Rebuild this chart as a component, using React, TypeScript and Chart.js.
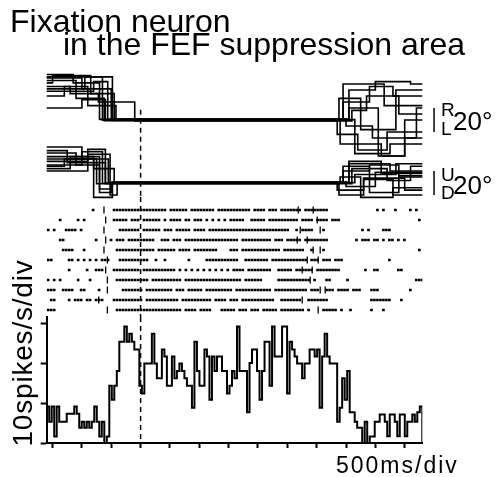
import React, { useEffect, useRef } from "react";
import { Chart, registerables } from "chart.js";
Chart.register(...registerables);

// time axis (ms, 0 = alignment event / dashed line)
const T_START = -1600;
const T_END = 4800;
const X_TICKS = [-1500, -1000, -500, 0, 500, 1000, 1500, 2000, 2500, 3000, 3500, 4000, 4500];
const HIST_TICKS = [0, 10, 20, 30];
const HIST_MAX = 31.5;

// spike density histogram (spikes/s), 150 bins from T_START to T_END
const HIST_RATE = [
  9.1, 5.3, 9.1, 1.6, 9.1, 5.3, 5.3, 5.3, 7.3, 7.3,
  7.3, 9.1, 7.3, 3.8, 5.3, 3.8, 5.3, 3.8, 5.3, 9.1,
  5.3, 1.6, 5.3, 0, 1.6, 14.3, 10.8, 14.3, 18, 25.3,
  25.3, 29.1, 25.3, 27.3, 25.3, 23.4, 23.4, 14.3, 12.4, 19.9,
  19.9, 19.9, 27.3, 19.9, 16.2, 16.2, 23.4, 21.6, 14.3, 14.3,
  21.6, 16.2, 18, 19.9, 18, 16.2, 14.3, 14.3, 8.8, 25.3,
  18, 14.3, 14.3, 23.4, 21.6, 10.8, 21.6, 18, 21.6, 21.6,
  18, 18, 12.4, 14.3, 18, 16.2, 29.1, 18, 18, 18,
  7.7, 20, 23.4, 23.4, 18, 10.8, 18, 25.3, 25.3, 14.3,
  29.1, 21.6, 21.6, 21.6, 29.1, 29.1, 12.4, 25.3, 23.4, 21.6,
  19.9, 19.9, 16.2, 19.9, 19.9, 23.4, 23.4, 21.6, 23.4, 8.8,
  21.6, 27.3, 21.6, 19.9, 19.9, 19.9, 5.3, 8.8, 16.2, 10.8,
  18, 7.7, 7.7, 5.3, 3.8, 3.8, 0, 5.3, 0, 1.6,
  1.6, 5.3, 5.3, 7.1, 7.1, 5.3, 1.7, 7.1, 7.1, 5.3,
  1.7, 7.1, 7.1, 1.7, 5.3, 5.3, 7.1, 5.3, 7.7, 9.1,
];

// raster: one string per trial, one character per 51 ms cell starting at T_START ("|" = spike)
const RASTER_CELL_MS = 51;
const RASTER_ROWS = [
  ".......... .....|.... ..|||||||| |||||||||| .||||||.|| ||||||.||| ||||||||.| |||.|||.|| |||||.|||| ||||...... .......... |.|...|... .|.|......",
  "....|..... |.|....... ..|||||.|| |.||||||.| .||||.||.| ||.|.|.|.| .|||||..|| |||.|||||| ||||.||||. ||||.|||.. .......... .......... ....|.....",
  "|.|...|||| .|........ ....|||||| |.||||||.| ||.|||||.| |||.|||||| |||||||||| |||||||||| |..|.||||. ..|....... .....|.|.. ..|||..... ..........",
  "....||.... ......|... .|.|||.||| ||||||..|| |.|||.|||| |||||||||| ||||.||||| |||||.|||. |||||.|||| ||||...... ...|.|||.| |.|.||.|.| ..........",
  ".....||||. ..|....... ...||||||| ||||||.||| |||.||||.| |||||||... .|||.||||| ||||||||.| ||||||..|. ..|....... .......... .......... ....|.....",
  "||.....||. |.|.|.|.|| |...|||||| ||||..|..| .......|.. ...||||||| ||||..|||| ||||.||||| |||||||.|| |.|||.|||. .......... ....|..... ..........",
  ".......|.. ...|..|||. ..|||||||| |.|||||||| |||.|.|.|. |.|.|.|.|. |.||||.||| |||||..||| ||.||||||. ||||||||.. ......|..| |......||. ..........",
  "|.|.|..... |...|..... ...||||||| ||||.||||| |||||.|||| |||||||||| |||||.|||| ||.....||| ||||||||.| ...||..... |......... .......... ...|||....",
  "|||..||||. .||....|.. .....||||| ||.||||||| ||.|||.||| ||.||||||| ||.||||||| |||||.|||| |||||||.|| |..|||.||| |.|||...|| |......... .|........",
  ".||....|.| ||.||.|||. ..|||||||| ||.||||||| ||||.||||| |||||.|||| .|||.||||| ||||||..|| |||||..||| ||||...... ........|| |||||...|. ..........",
  "|||....... .......... ...||||||| |||||||||| |||||.|||| .||||...|| |||.|||.|| |.|||||.|| ||||||.|.. ..|||||.|. .|......|. ..|....... ..........",
];
// per-trial event ticks (ms)
const RASTER_ON = [-624, -595, -624, -595, -624, -566, -595, -566, -566, -714, -566];
const RASTER_OFF = [
  [2686, 2941], [3009], [2720, 3060], [2669, 2839], [2941, 3060], [2839, 3026],
  [2754, 2924], [2890], [3060, 3145], [2754], [3026],
];

// eye position traces, steps of [time ms, degrees]
const H_OFFSET = 52.5; // horizontal channel drawn above vertical channel
const H_TRACES = [
  [[-1600, 38], [-1150, 31], [-700, 0.5], [3450, 15], [3900, 28], [4300, 20]],
  [[-1600, 35], [-1000, 26], [-500, -0.4], [3350, -12], [3700, -25], [4200, -10]],
  [[-1600, 31], [-1500, 37], [-850, 22], [-450, 0.9], [3550, 25], [4000, 32], [4600, 30]],
  [[-1600, 10], [-1000, 17], [-600, 0.2], [3400, -20], [4100, -30], [4500, -15]],
  [[-1600, 28], [-1200, 22], [-720, 15], [-100, -0.7], [3600, 8], [3850, 20], [4400, 5]],
  [[-1600, 24], [-800, 32], [-560, 0.6], [3500, -5], [3950, -15], [4700, 10]],
  [[-1600, 36], [-650, -0.2], [3450, 30], [4150, 12]],
  [[-1600, 20], [-1300, 28], [-900, 12], [-420, 0.3], [3650, -28], [4250, -20]],
  [[-1600, 33], [-1100, 18], [-620, -0.5], [3380, 18], [3750, -8], [4350, 25]],
  [[-1600, 26], [-950, 36], [-480, 0.1], [3550, 10], [4050, -30], [4500, 0]],
];
const V_TRACES = [
  [[-1600, 25], [-1100, 15], [-700, -8], [-500, 0.4], [3450, 10], [3900, 15], [4400, 5]],
  [[-1600, 18], [-900, 28], [-600, -0.3], [3350, -6], [3800, 3], [4300, -10]],
  [[-1600, 12], [-1200, 22], [-800, -12], [-480, 0.7], [3550, 18], [4100, 8]],
  [[-1600, 30], [-1000, 20], [-550, 0.1], [3400, 5], [3750, -12], [4300, -4]],
  [[-1600, 14], [-1300, 20], [-750, -0.6], [3600, 12], [4200, 2], [4600, 14]],
  [[-1600, 22], [-700, -5], [-500, 0.5], [3500, -3], [4000, 9]],
  [[-1600, 15], [-1000, 26], [-650, -0.2], [3450, 14], [3900, -8], [4400, 6]],
  [[-1600, 20], [-800, 12], [-450, 0.3], [3650, 7], [4350, 16]],
  [[-1600, 27], [-1250, 17], [-600, -0.4], [3380, -10], [3800, 4], [4500, -6]],
  [[-1600, 10], [-900, 24], [-520, -10], [-400, 0.2], [3550, 16], [4250, 10]],
];
const SCALE_BAR_T = 5000;
const SCALE_BAR_DEG = 20;
const EYE_MIN = -11.7;
const EYE_MAX = 94.2;
const DASH_TOP_DEG = 61;

const FONT = '"Liberation Sans", Arial, Helvetica, sans-serif';

export default function App() {
  const ref = useRef<HTMLCanvasElement>(null);
  useEffect(() => {
    if (!ref.current) return;
    const datasets: any[] = [];
    const black = "#000";

    // histogram
    const bw = (T_END - T_START) / HIST_RATE.length;
    const histPts = HIST_RATE.map((v, i) => ({ x: T_START + i * bw, y: v }));
    histPts.push({ x: T_END, y: HIST_RATE[HIST_RATE.length - 1] });
    histPts.push({ x: T_END, y: 0 });
    datasets.push({
      type: "line", yAxisID: "yHist", data: histPts, stepped: "before",
      borderColor: black, borderWidth: 2, pointRadius: 0, fill: false,
    });

    // raster spikes
    const spikes: { x: number; y: number }[] = [];
    RASTER_ROWS.forEach((row, r) => {
      row.replace(/ /g, "").split("").forEach((ch, c) => {
        if (ch === "|") spikes.push({ x: T_START + (c + 0.5) * RASTER_CELL_MS, y: r });
      });
    });
    datasets.push({
      type: "scatter", yAxisID: "yRaster", data: spikes,
      pointStyle: "rect", pointRadius: 1.9, backgroundColor: black, borderWidth: 0,
    });
    const events: { x: number; y: number }[] = [];
    RASTER_ON.forEach((t, r) => events.push({ x: t, y: r }));
    RASTER_OFF.forEach((ts, r) => ts.forEach((t) => events.push({ x: t, y: r })));
    datasets.push({
      type: "scatter", yAxisID: "yRaster", data: events,
      pointStyle: "line", pointRotation: 90, pointRadius: 3.5, borderColor: black, borderWidth: 1.3,
    });

    // eye traces
    const toPts = (steps: number[][], off: number) => {
      const pts = steps.map(([t, v]) => ({ x: t, y: v + off }));
      pts.push({ x: T_END, y: steps[steps.length - 1][1] + off });
      return pts;
    };
    H_TRACES.forEach((s) => datasets.push({
      type: "line", yAxisID: "yEye", data: toPts(s, H_OFFSET), stepped: "before",
      borderColor: black, borderWidth: 1.6, pointRadius: 0, fill: false, clip: false,
    }));
    V_TRACES.forEach((s) => datasets.push({
      type: "line", yAxisID: "yEye", data: toPts(s, 0), stepped: "before",
      borderColor: black, borderWidth: 1.6, pointRadius: 0, fill: false, clip: false,
    }));
    // scale bars
    [H_OFFSET, 0].forEach((c) => datasets.push({
      type: "line", yAxisID: "yEye",
      data: [{ x: SCALE_BAR_T, y: c - SCALE_BAR_DEG / 2 }, { x: SCALE_BAR_T, y: c + SCALE_BAR_DEG / 2 }],
      borderColor: black, borderWidth: 1.5, pointRadius: 0, clip: false,
    }));

    // dashed alignment line across panels
    const dash = { borderColor: black, borderWidth: 1.5, borderDash: [5, 4], pointRadius: 0, fill: false, type: "line" };
    datasets.push({ ...dash, yAxisID: "yEye", data: [{ x: 0, y: DASH_TOP_DEG }, { x: 0, y: EYE_MIN }] });
    datasets.push({ ...dash, yAxisID: "yRaster", data: [{ x: 0, y: -1.3 }, { x: 0, y: 10.7 }] });
    datasets.push({ ...dash, yAxisID: "yHist", data: [{ x: 0, y: HIST_MAX }, { x: 0, y: 0 }] });

    const chart = new Chart(ref.current, {
      type: "line",
      data: { datasets },
      options: {
        animation: false,
        responsive: false,
        events: [],
        layout: { padding: { left: 40.7, right: 76.7, top: 70, bottom: 29 } },
        plugins: { legend: { display: false }, tooltip: { enabled: false } },
        scales: {
          x: {
            type: "linear", position: "bottom", min: T_START, max: T_END,
            afterBuildTicks: (s: any) => { s.ticks = X_TICKS.map((v) => ({ value: v })); },
            ticks: { display: false },
            grid: { drawOnChartArea: false, drawTicks: true, tickLength: 5, tickWidth: 2, tickColor: black },
            border: { display: true, width: 2, color: black },
          },
          yHist: {
            type: "linear", position: "left", stack: "v", stackWeight: 126, min: 0, max: HIST_MAX,
            afterBuildTicks: (s: any) => { s.ticks = HIST_TICKS.map((v) => ({ value: v })); },
            ticks: { display: false },
            grid: { drawOnChartArea: false, drawTicks: true, tickLength: 6, tickWidth: 2, tickColor: black },
            border: { display: true, width: 2, color: black },
          },
          yRaster: {
            type: "linear", position: "left", stack: "v", stackWeight: 120, min: -1.3, max: 10.7,
            reverse: true, display: false,
          },
          yEye: {
            type: "linear", position: "left", stack: "v", stackWeight: 127, min: EYE_MIN, max: EYE_MAX,
            display: false,
          },
        },
      } as any,
    });
    return () => chart.destroy();
  }, []);

  const txt = (style: React.CSSProperties): React.CSSProperties => ({
    position: "absolute", fontFamily: FONT, color: "#000", whiteSpace: "nowrap", margin: 0, ...style,
  });

  return (
    <div style={{ position: "absolute", left: 0, top: 0, width: 499, height: 477, background: "#fff", overflow: "hidden" }}>
      <canvas ref={ref} width={499} height={477} style={{ position: "absolute", left: 0, top: 0, width: 499, height: 477 }} />
      <div style={txt({ left: 10, top: 5, fontSize: 32, lineHeight: "32px" })}>Fixation neuron</div>
      <div style={txt({ left: 63, top: 28, fontSize: 32, lineHeight: "32px" })}>in the FEF suppression area</div>
      <div style={txt({ left: 441, top: 100, fontSize: 19, lineHeight: "19px" })}>R</div>
      <div style={txt({ left: 441, top: 119, fontSize: 19, lineHeight: "19px" })}>L</div>
      <div style={txt({ left: 453, top: 108, fontSize: 26, lineHeight: "26px" })}>20°</div>
      <div style={txt({ left: 441, top: 165, fontSize: 19, lineHeight: "19px" })}>U</div>
      <div style={txt({ left: 441, top: 183, fontSize: 19, lineHeight: "19px" })}>D</div>
      <div style={txt({ left: 453, top: 172, fontSize: 26, lineHeight: "26px" })}>20°</div>
      <div style={txt({ left: -76.7, top: 338.5, width: 200, height: 28, fontSize: 28, lineHeight: "28px", textAlign: "center", letterSpacing: "0.8px", transform: "rotate(-90deg)" })}>10spikes/s/div</div>
      <div style={txt({ left: 336, top: 454, fontSize: 23, lineHeight: "23px", letterSpacing: "2px" })}>500ms/div</div>
    </div>
  );
}
